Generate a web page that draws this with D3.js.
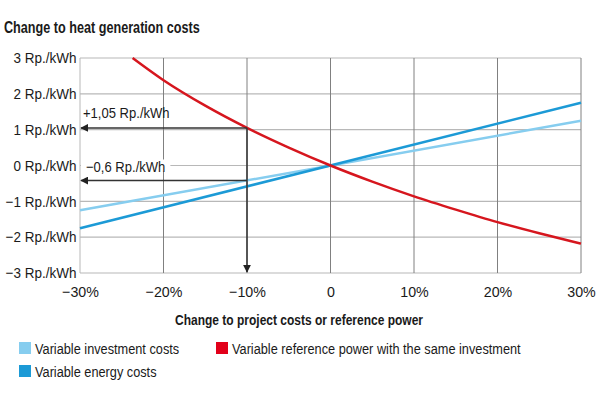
<!DOCTYPE html>
<html>
<head>
<meta charset="utf-8">
<script src="https://cdn.jsdelivr.net/npm/d3@7"></script>
<style>
  body { margin: 0; background: #fff; }
  svg text { font-family: "Liberation Sans", Arial, sans-serif; fill: #1a1a1a; }
</style>
</head>
<body>
<div class="chart"></div>
<script>
// values (x in %, y in Rp./kWh)
const investX = [-30, 30];
const investY = [-1.25, 1.25];
const energyX = [-30, 30];
const energyY = [-1.75, 1.75];
const powerX = [-23.7, -20, -15, -10, -5, 0, 5, 10, 15, 20, 25, 30];
const powerY = [3.0, 2.38, 1.67, 1.05, 0.5, 0, -0.45, -0.86, -1.23, -1.58, -1.89, -2.18];
const xTicks = [-30, -20, -10, 0, 10, 20, 30];
const yTicks = [-3, -2, -1, 0, 1, 2, 3];
const legendItems = ["Variable investment costs", "Variable energy costs", "Variable reference power with the same investment"];
const markAt = -10, markHigh = 1.05, markLow = -0.42;
const markLabels = ["+1,05 Rp./kWh", "\u22120,6 Rp./kWh"];

const colors = { invest: "#86cdef", energy: "#1c9ad6", power: "#d6161e", legendPower: "#e2001a" };

const margin = { top: 58, right: 19, bottom: 126, left: 80 },
  width = 600 - margin.left - margin.right,
  height = 399 - margin.top - margin.bottom;

const svg = d3.select(".chart").append("svg").attr("width", 600).attr("height", 399);

// squeeze a text horizontally (the original uses a condensed face)
function squeeze(parent, x, y, str, sx, size, anchor) {
  return parent.append("g").attr("transform", `translate(${x},${y}) scale(${sx},1)`)
    .append("text").attr("font-size", size).attr("text-anchor", anchor || "start").text(str);
}

squeeze(svg, 4, 33, "Change to heat generation costs", 0.79, 16, "start").attr("font-weight", "bold");

const g = svg.append("g").attr("transform", `translate(${margin.left},${margin.top})`);

const x = d3.scaleLinear().domain([-30, 30]).range([0, width]);
const y = d3.scaleLinear().domain([-3, 3]).range([height, 0]);

// grid
g.append("g").selectAll("line").data(yTicks).join("line")
  .attr("x1", 0).attr("x2", width).attr("y1", (d) => y(d)).attr("y2", (d) => y(d))
  .attr("stroke", "#b8b8b8").attr("stroke-width", 1.2);
g.append("g").selectAll("line").data(xTicks).join("line")
  .attr("x1", (d) => x(d)).attr("x2", (d) => x(d)).attr("y1", 0).attr("y2", height)
  .attr("stroke", (d) => (d === -30 ? "#b8b8b8" : "#808080")).attr("stroke-width", 1);

// axes labels
const yAxis = d3.axisLeft(y).tickValues(yTicks).tickSize(0).tickPadding(4)
  .tickFormat((d) => `${d < 0 ? "\u2212" + -d : d} Rp./kWh`);
g.append("g").call(yAxis)
  .call((a) => a.select(".domain").remove())
  .call((a) => a.selectAll("text").attr("font-size", 15).attr("font-family", null).attr("fill", null)
    .attr("transform", "scale(0.9,1)"));

const xAxis = d3.axisBottom(x).tickValues(xTicks).tickSize(0).tickPadding(13)
  .tickFormat((d) => (d === 0 ? "0" : (d < 0 ? "\u2212" + -d : d) + "%"));
g.append("g").attr("transform", `translate(0,${height})`).call(xAxis)
  .call((a) => a.select(".domain").remove())
  .call((a) => a.selectAll("text").attr("font-size", 15).attr("font-family", null).attr("fill", null)
    .attr("transform", "scale(0.95,1)"));

squeeze(svg, 299, 325, "Change to project costs or reference power", 0.8, 15, "middle").attr("font-weight", "bold");

// series
const line = d3.line().x((d) => x(d[0])).y((d) => y(d[1]));
const lineCurve = d3.line().curve(d3.curveMonotoneX).x((d) => x(d[0])).y((d) => y(d[1]));
g.append("path").datum(d3.zip(investX, investY)).attr("d", line)
  .attr("fill", "none").attr("stroke", colors.invest).attr("stroke-width", 2.5);
g.append("path").datum(d3.zip(energyX, energyY)).attr("d", line)
  .attr("fill", "none").attr("stroke", colors.energy).attr("stroke-width", 2.5);
g.append("path").datum(d3.zip(powerX, powerY)).attr("d", lineCurve)
  .attr("fill", "none").attr("stroke", colors.power).attr("stroke-width", 2.5);

// annotations
svg.append("defs").append("marker").attr("id", "arr")
  .attr("viewBox", "0 0 10 10").attr("refX", 9).attr("refY", 5)
  .attr("markerWidth", 8).attr("markerHeight", 8).attr("markerUnits", "userSpaceOnUse")
  .attr("orient", "auto")
  .append("path").attr("d", "M0,0L10,5L0,10Z").attr("fill", "#222");

const ann = g.append("g").attr("stroke", "#333").attr("stroke-width", 1.5).attr("fill", "none");
ann.append("line").attr("x1", x(markAt)).attr("x2", x(-30) + 1).attr("y1", y(markHigh)).attr("y2", y(markHigh))
  .attr("marker-end", "url(#arr)");
ann.append("line").attr("x1", x(markAt)).attr("x2", x(-30) + 1).attr("y1", y(markLow)).attr("y2", y(markLow))
  .attr("marker-end", "url(#arr)");
ann.append("line").attr("x1", x(markAt)).attr("x2", x(markAt)).attr("y1", y(markHigh)).attr("y2", y(-3) - 1)
  .attr("marker-end", "url(#arr)");

squeeze(g, 3, y(markHigh) - 10, markLabels[0], 0.87, 15);
const bg = g.append("rect").attr("fill", "#fff");
const t2 = squeeze(g, 6, y(0) + 6, markLabels[1], 0.87, 15);
const len2 = t2.node().getComputedTextLength() * 0.87;
bg.attr("x", 1).attr("y", y(0) - 6).attr("width", len2 + 10).attr("height", 12);

// legend
const legendPos = [[19, 348, colors.invest], [19, 371, colors.energy], [216, 348, colors.legendPower]];
const lg = svg.append("g").selectAll("g").data(legendItems).join("g")
  .attr("transform", (d, i) => `translate(${legendPos[i][0]},${legendPos[i][1]})`);
lg.append("rect").attr("x", 0).attr("y", -6).attr("width", 12).attr("height", 12)
  .attr("fill", (d, i) => legendPos[i][2]);
lg.append("text").attr("x", 16).attr("y", 5.5).attr("font-size", 15)
  .attr("transform", "translate(16,0) scale(0.85,1) translate(-16,0)").text((d) => d);
</script>
</body>
</html>
